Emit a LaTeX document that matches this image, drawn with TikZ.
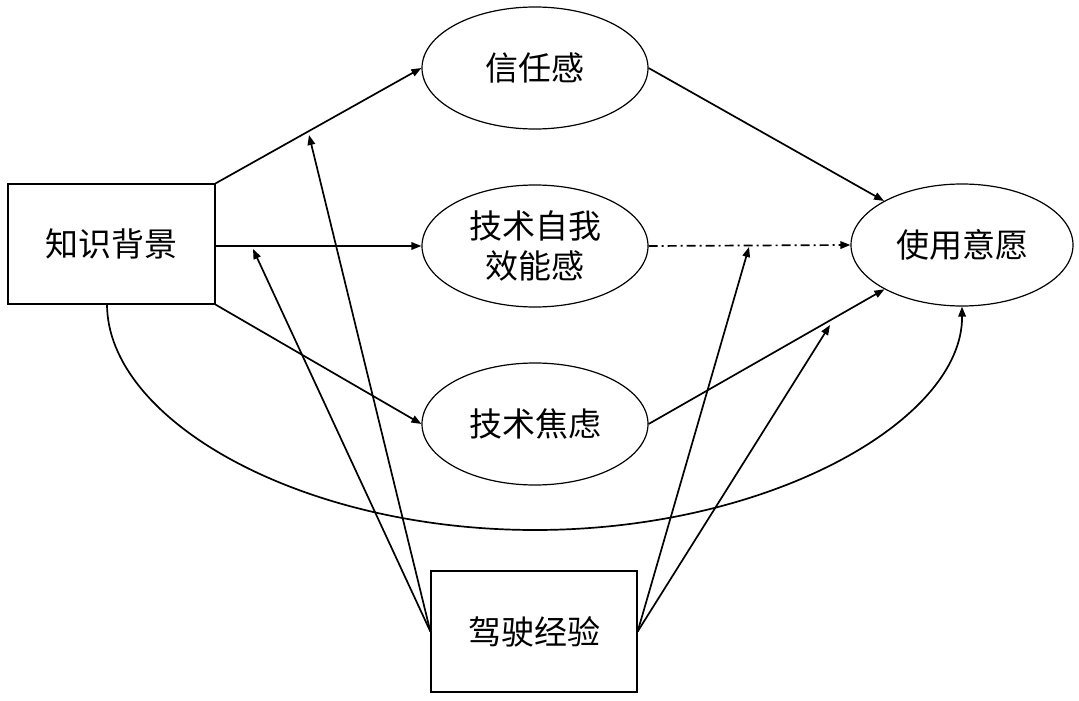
\documentclass[tikz,border=0pt]{standalone}
\usepackage{fontspec}
\setmainfont{Noto Sans CJK SC}
\usetikzlibrary{shapes.geometric,arrows.meta}
\tikzset{
  boxnode/.style={draw, line width=1.3pt, rectangle, inner sep=0pt, font=\fontsize{33}{40}\selectfont, align=center},
  ellnode/.style={draw, line width=1.2pt, ellipse, inner sep=0pt, minimum width=226pt, minimum height=122pt, font=\fontsize{33}{40}\selectfont, align=center},
  conn/.style={line width=1.7pt, -{Triangle[length=10pt,width=7.5pt]}},
  dashdot/.style={conn, dash pattern=on 9pt off 4pt on 2pt off 4pt}
}
\begin{document}
\begin{tikzpicture}[x=1pt,y=-1pt]
\useasboundingbox (0,0) rectangle (1079,701);
\node[boxnode, minimum width=207pt, minimum height=120pt] (kb) at (111.5,244) {知识背景};
\node[ellnode] (trust) at (535,68) {信任感};
\node[ellnode] (eff) at (535,246) {技术自我\\效能感};
\node[ellnode] (anx) at (535,424) {技术焦虑};
\node[ellnode, minimum width=222pt] (use) at (962,245) {使用意愿};
\node[boxnode, minimum width=206pt, minimum height=121pt] (exp) at (534,631.5) {驾驶经验};
\coordinate (t1) at (309,135);
\coordinate (t2) at (253,249);
\coordinate (t3) at (749,247);
\coordinate (t4) at (830,325);
\coordinate (kbs) at (107,304);
\draw[conn] (kb.north east) -- (trust.west);
\draw[conn] (kb.east |- eff.west) -- (eff.west);
\draw[conn] (kb.south east) -- (anx.west);
\draw[conn] (trust.east) -- (use);
\draw[dashdot] (eff.east) -- (use.west);
\draw[conn] (anx.east) -- (use);
\draw[conn] (kbs) .. controls (107,420) and (300,530) .. (535,530) .. controls (770,530) and (963,420) .. (use.south);
\draw[conn] (exp.west) -- (t1);
\draw[conn] (exp.west) -- (t2);
\draw[conn] (exp.east) -- (t3);
\draw[conn] (exp.east) -- (t4);
\end{tikzpicture}
\end{document}
